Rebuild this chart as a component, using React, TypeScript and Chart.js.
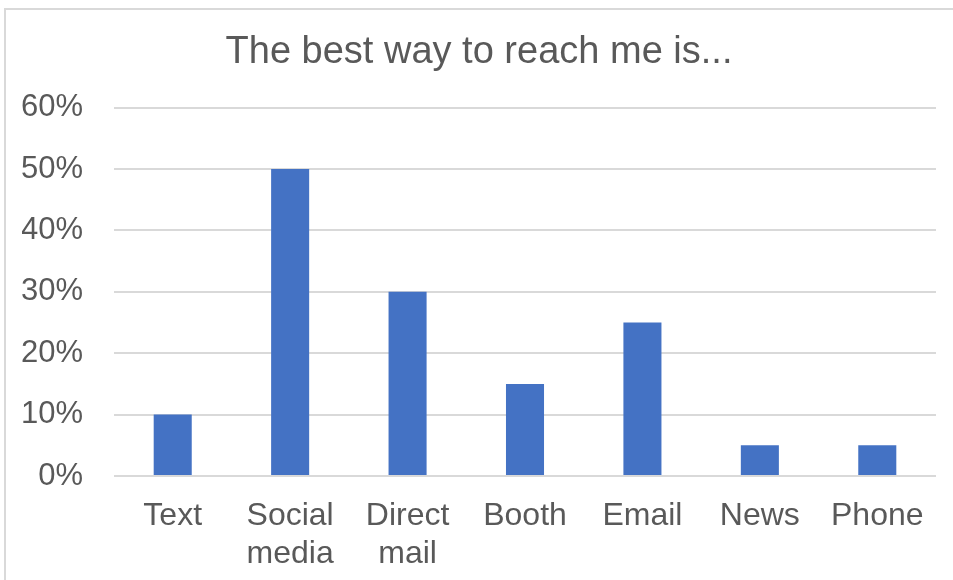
import React, { useEffect, useRef } from "react";
import { Chart, registerables } from "chart.js";

Chart.register(...registerables);

const categories: (string | string[])[] = [
  "Text",
  ["Social", "media"],
  ["Direct", "mail"],
  "Booth",
  "Email",
  "News",
  "Phone",
];
const values: number[] = [0.1, 0.5, 0.3, 0.15, 0.25, 0.05, 0.05];
const yTicks: number[] = [0, 0.1, 0.2, 0.3, 0.4, 0.5, 0.6];
const titleText = "The best way to reach me is...";

const FONT = "'Liberation Sans', Arial, sans-serif";
const TEXT = "#595959";
const GRID = "#D9D9D9";

export default function App() {
  const ref = useRef<HTMLCanvasElement | null>(null);

  useEffect(() => {
    document.body.style.margin = "0";
    if (!ref.current) return;
    const chart = new Chart(ref.current, {
      type: "bar",
      data: {
        labels: categories,
        datasets: [
          {
            data: values,
            backgroundColor: "#4472C4",
            borderWidth: 0,
            categoryPercentage: 1,
            barPercentage: 0.324,
          },
        ],
      },
      options: {
        animation: false,
        responsive: true,
        maintainAspectRatio: false,
        devicePixelRatio: 1,
        layout: { padding: { left: 22, right: 17, top: 0, bottom: 12 } },
        plugins: {
          legend: { display: false },
          tooltip: { enabled: false },
          title: {
            display: true,
            text: titleText,
            color: TEXT,
            font: { family: FONT, size: 38, weight: "normal", lineHeight: 1.2 },
            padding: { top: 30, bottom: 32 },
          },
        },
        scales: {
          x: {
            grid: { display: false, drawTicks: false },
            border: { display: false },
            afterFit: (axis: any) => {
              axis.height = 92;
            },
            ticks: {
              color: TEXT,
              font: { family: FONT, size: 32, lineHeight: 1.19 },
              padding: 21,
              maxRotation: 0,
              autoSkip: false,
            },
          },
          y: {
            min: 0,
            max: 0.6,
            afterBuildTicks: (axis: any) => {
              axis.ticks = yTicks.map((v) => ({ value: v }));
            },
            afterFit: (axis: any) => {
              axis.width = 92;
            },
            grid: { color: GRID, lineWidth: 2, drawTicks: false },
            border: { display: false },
            ticks: {
              color: TEXT,
              font: { family: FONT, size: 31, lineHeight: 1.2 },
              padding: 31,
              callback: (v: any) => `${Math.round(Number(v) * 100)}%`,
            },
          },
        },
      },
    });
    return () => chart.destroy();
  }, []);

  return (
    <div
      style={{
        position: "fixed",
        left: 0,
        top: 0,
        width: 953,
        height: 580,
        overflow: "hidden",
        background: "#fff",
      }}
    >
      <div
        style={{
          position: "absolute",
          left: 4,
          top: 8,
          width: 1000,
          height: 1000,
          border: `2px solid ${GRID}`,
          boxSizing: "border-box",
        }}
      />
      <div style={{ position: "absolute", left: 0, top: 0, width: 953, height: 580 }}>
        <canvas ref={ref} />
      </div>
    </div>
  );
}
